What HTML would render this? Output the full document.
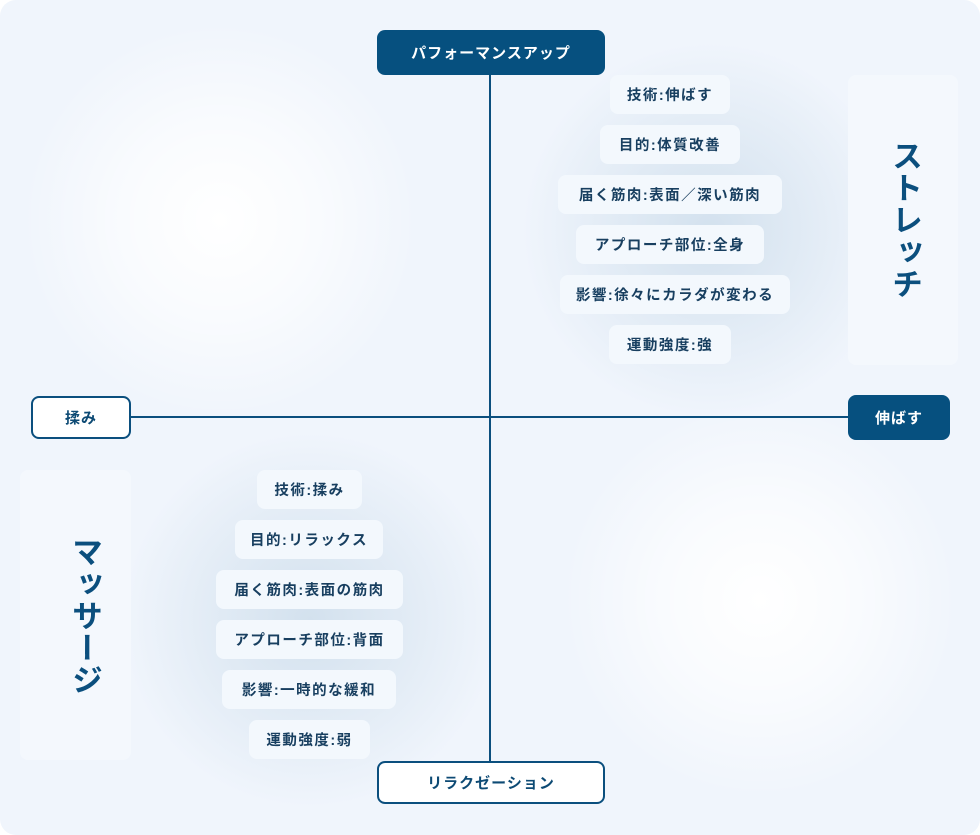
<!DOCTYPE html>
<html><head><meta charset="utf-8"><style>
*{margin:0;padding:0;box-sizing:border-box}
body{width:980px;height:835px;background:#fff;font-family:"Liberation Sans","Noto Sans CJK JP",sans-serif;overflow:hidden}
#c{position:absolute;left:0;top:0;width:980px;height:835px;border-radius:16px;background:#f0f5fc;overflow:hidden}
.g{position:absolute;border-radius:50%}
.ln{position:absolute;background:#0b4f7e}
.b{position:absolute;display:flex;align-items:center;justify-content:center;font-weight:bold;font-size:15px;letter-spacing:1px;border-radius:8px}
.f{background:#06507f;color:#fff}
.o{background:#fff;color:#0d4a74;border:2px solid #0b4f7e}
.p{position:absolute;height:39px;background:#f3f8fd;border-radius:8px;display:flex;align-items:center;justify-content:center;color:#183f60;font-size:14.5px;font-weight:bold;letter-spacing:1.5px}
.col{position:absolute;background:#f4f8fd;border-radius:8px}
.v{position:absolute;writing-mode:vertical-rl;color:#0b4f7e;font-weight:bold;font-size:31px;letter-spacing:1px}
</style></head><body><div id="c">
<div class="g" style="left:20px;top:20px;width:400px;height:400px;background:radial-gradient(circle,#ffffff 0%,rgba(255,255,255,0.6) 35%,rgba(238,244,251,0) 70%)"></div>
<div class="g" style="left:520px;top:40px;width:380px;height:380px;background:radial-gradient(circle,#d3e1ee 0%,rgba(215,228,240,0.6) 35%,rgba(238,244,251,0) 70%)"></div>
<div class="g" style="left:120px;top:430px;width:380px;height:380px;background:radial-gradient(circle,#d3e1ee 0%,rgba(215,228,240,0.6) 35%,rgba(238,244,251,0) 70%)"></div>
<div class="g" style="left:560px;top:400px;width:400px;height:400px;background:radial-gradient(circle,#ffffff 0%,rgba(255,255,255,0.6) 35%,rgba(238,244,251,0) 70%)"></div>

<div class="ln" style="left:489px;top:60px;width:2px;height:710px"></div>
<div class="ln" style="left:120px;top:416px;width:740px;height:2px"></div>

<div class="col" style="left:848px;top:75px;width:110px;height:290px"></div>
<div class="v" style="left:882px;top:140px">ストレッチ</div>
<div class="col" style="left:20px;top:470px;width:111px;height:290px"></div>
<div class="v" style="left:62px;top:536px">マッサージ</div>

<div class="b f" style="left:377px;top:30px;width:228px;height:45px">パフォーマンスアップ</div>
<div class="b o" style="left:31px;top:396px;width:100px;height:43px">揉み</div>
<div class="b f" style="left:848px;top:395px;width:102px;height:45px">伸ばす</div>
<div class="b o" style="left:377px;top:761px;width:228px;height:43px">リラクゼーション</div>

<div class="p" style="left:610px;top:75px;width:120px">技術:伸ばす</div>
<div class="p" style="left:600px;top:125px;width:140px">目的:体質改善</div>
<div class="p" style="left:558px;top:175px;width:224px">届く筋肉:表面／深い筋肉</div>
<div class="p" style="left:576px;top:225px;width:188px">アプローチ部位:全身</div>
<div class="p" style="left:560px;top:275px;width:230px">影響:徐々にカラダが変わる</div>
<div class="p" style="left:609px;top:325px;width:122px">運動強度:強</div>

<div class="p" style="left:257px;top:470px;width:105px">技術:揉み</div>
<div class="p" style="left:235px;top:520px;width:148px">目的:リラックス</div>
<div class="p" style="left:216px;top:570px;width:187px">届く筋肉:表面の筋肉</div>
<div class="p" style="left:216px;top:620px;width:187px">アプローチ部位:背面</div>
<div class="p" style="left:222px;top:670px;width:174px">影響:一時的な緩和</div>
<div class="p" style="left:249px;top:720px;width:121px">運動強度:弱</div>
</div></body></html>
